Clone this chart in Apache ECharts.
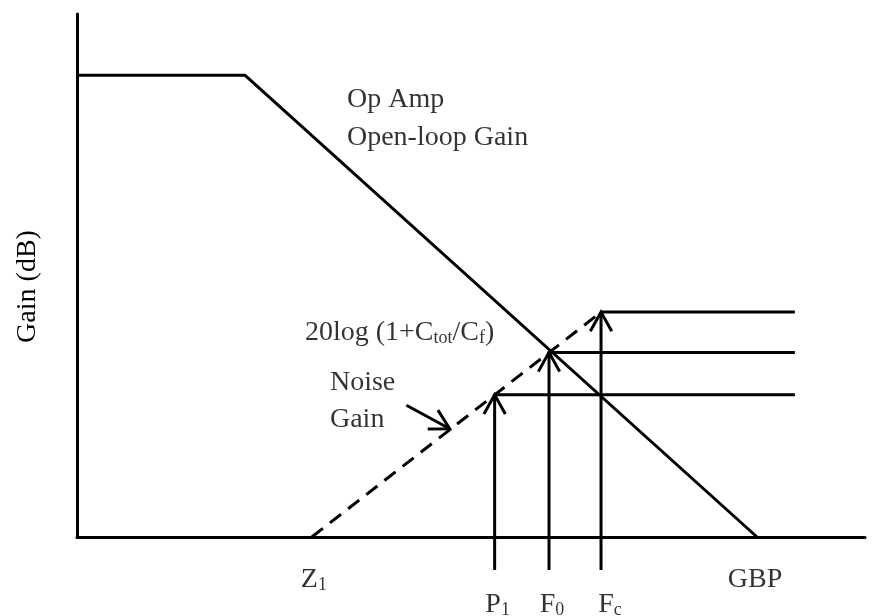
<!DOCTYPE html>
<html><head><meta charset="utf-8">
<script src="https://cdn.jsdelivr.net/npm/echarts@6/dist/echarts.min.js"></script>
<style>html,body{margin:0;padding:0;background:#fff}#chart{width:879px;height:616px}</style>
</head><body><div id="chart"></div>
<script>
// Bode sketch: op amp open-loop gain vs. noise gain (log frequency on x, gain in dB on y, arbitrary units)
const markerNames = ['Z', 'P', 'F', 'F', 'GBP'];
const markerSubs = ['1', '1', '0', 'c', ''];
const markerFreq = [29.8, 53.0, 59.9, 66.5, 86.3];
const openLoopFreq = [0, 21.3, 86.3];
const openLoopGain = [88.3, 88.3, 0];
const noiseGainFreq = [29.8, 66.5];
const noiseGainDb = [0, 43.0];
const levelFreq = [53.0, 59.9, 66.5];   // P1, F0, Fc
const levelGain = [27.2, 35.3, 43.0];
const levelEndFreq = 91.1;
const arrowBaseGain = -6.3;

const FONT = '"Liberation Serif", "Times New Roman", serif';
const INK = '#000';
const FS = 28;
const rich = {
  m: { fontSize: FS, fontFamily: FONT, color: INK },
  s: { fontSize: 18, fontFamily: FONT, color: INK, verticalAlign: 'bottom' }
};

const chart = echarts.init(document.getElementById('chart'), null, { renderer: 'canvas' });

function renderArrow(params, api) {
  const a = api.coord([api.value(0), api.value(1)]);
  const b = api.coord([api.value(2), api.value(3)]);
  const ang = Math.atan2(b[1] - a[1], b[0] - a[0]);
  const L = 22, spread = Math.PI / 6.2;
  const w1 = [b[0] - L * Math.cos(ang - spread), b[1] - L * Math.sin(ang - spread)];
  const w2 = [b[0] - L * Math.cos(ang + spread), b[1] - L * Math.sin(ang + spread)];
  const style = { stroke: '#000', lineWidth: 3, fill: null };
  return {
    type: 'group',
    children: [
      { type: 'polyline', shape: { points: [a, b] }, style: style },
      { type: 'polyline', shape: { points: [w1, b, w2] }, style: style }
    ]
  };
}

const arrowData = levelFreq.map((f, i) => [f, arrowBaseGain, f, levelGain[i]]);
arrowData.push([41.8, 25.2, 47.3, 20.7]); // pointer to the noise-gain curve

// frequency marker labels below the axis
const rowOffset = [43, 68, 68, 68, 43];
const dxOffset = [2, 3, 3, 9, -2];
const markerLabels = markerNames.map((n, i) => ({
  value: [markerFreq[i], 0],
  label: {
    show: true, position: 'inside', offset: [dxOffset[i], rowOffset[i]],
    formatter: '{m|' + n + '}' + (markerSubs[i] ? '{s|' + markerSubs[i] + '}' : ''),
    rich: rich
  }
}));

function note(x, y, text) {
  return {
    value: [x, y],
    label: { show: true, position: 'right', distance: 0, formatter: text, rich: rich }
  };
}
const notes = [
  note(34.26, 83.56, '{m|Op Amp}'),
  note(34.26, 76.29, '{m|Open-loop Gain}'),
  note(28.93, 39.0, '{m|20log (1+C}{s|tot}{m|/C}{s|f}{m|)}'),
  note(32.1, 29.6, '{m|Noise}'),
  note(32.1, 22.4, '{m|Gain}')
];

const lineStyle = { color: '#000', width: 3 };
const series = [
  {
    type: 'line', data: openLoopFreq.map((f, i) => [f, openLoopGain[i]]),
    symbol: 'none', lineStyle: lineStyle, clip: false, silent: true, z: 3
  },
  {
    type: 'line', data: noiseGainFreq.map((f, i) => [f, noiseGainDb[i]]),
    symbol: 'none', lineStyle: { color: '#000', width: 3, type: [14, 9] }, clip: false, silent: true, z: 3
  }
];
levelFreq.forEach((f, i) => {
  series.push({
    type: 'line', data: [[f, levelGain[i]], [levelEndFreq, levelGain[i]]],
    symbol: 'none', lineStyle: lineStyle, clip: false, silent: true, z: 3
  });
});
series.push({
  type: 'custom', renderItem: renderArrow, data: arrowData, clip: false, silent: true, z: 4
});
series.push({
  type: 'scatter', symbolSize: 0, data: markerLabels.concat(notes), silent: true, z: 5
});

chart.setOption({
  animation: false,
  backgroundColor: '#fff',
  grid: { left: 77, right: 14, top: 14, bottom: 79 },
  xAxis: {
    type: 'value', min: 0, max: 100,
    axisLine: { show: true, onZero: false, lineStyle: { color: '#000', width: 3 } },
    axisTick: { show: false }, axisLabel: { show: false }, splitLine: { show: false }
  },
  yAxis: {
    type: 'value', min: 0, max: 100,
    name: 'Gain (dB)', nameLocation: 'middle', nameGap: 35, nameRotate: 90,
    nameTextStyle: { fontSize: FS, fontFamily: FONT, color: INK, padding: [0, 22, 0, 0] },
    axisLine: { show: true, onZero: false, lineStyle: { color: '#000', width: 3 } },
    axisTick: { show: false }, axisLabel: { show: false }, splitLine: { show: false }
  },
  series: series
});
</script>
</body></html>
